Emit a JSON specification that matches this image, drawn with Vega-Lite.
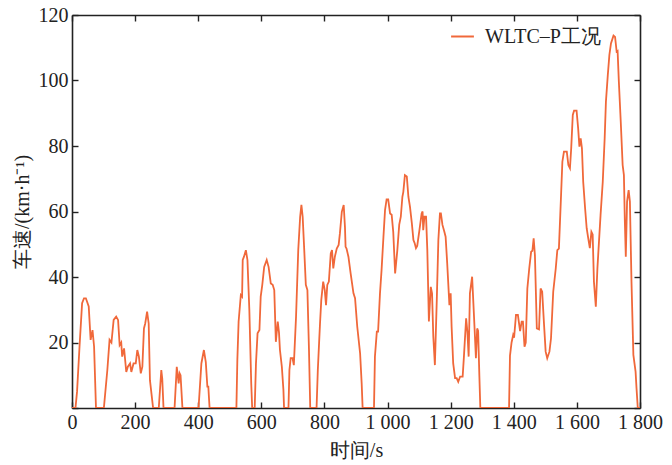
{
  "$schema": "https://vega.github.io/schema/vega-lite/v6.json",
  "width": 568,
  "height": 393,
  "autosize": {"type": "none"},
  "padding": {"left": 72, "top": 15, "right": 32, "bottom": 57},
  "config": {
    "font": "Liberation Serif",
    "view": {"stroke": null},
    "axis": {
      "grid": false,
      "domainColor": "#222",
      "domainWidth": 1.6,
      "tickColor": "#222",
      "tickWidth": 1.4,
      "tickSize": -6,
      "labelFont": "Liberation Serif",
      "labelFontSize": 20,
      "labelColor": "#222",
      "titleFont": "Liberation Serif",
      "titleFontSize": 20,
      "titleFontWeight": "normal",
      "titleColor": "#222"
    },
    "legend": {
      "labelFont": "Liberation Serif",
      "labelFontSize": 20,
      "labelColor": "#222"
    }
  },
  "data": {"values": [
    {"t":0,"v":0},{"t":11,"v":0},{"t":16,"v":5},{"t":24,"v":19},{"t":32,"v":32},{"t":38,"v":33.5},{"t":44,"v":33.5},{"t":53,"v":31},{"t":59,"v":20.8},{"t":65,"v":23.8},{"t":70,"v":18.7},{"t":76,"v":0},
    {"t":101,"v":0},{"t":112,"v":11.6},{"t":119,"v":20.8},{"t":125,"v":20},{"t":132,"v":26.9},{"t":140,"v":27.9},{"t":146,"v":26.9},{"t":151,"v":19.2},{"t":156,"v":20},{"t":159,"v":15.7},{"t":165,"v":18.2},{"t":172,"v":11},{"t":177,"v":12.6},{"t":184,"v":13.6},{"t":188,"v":11},{"t":195,"v":13.6},{"t":202,"v":13.6},{"t":207,"v":17.7},{"t":212,"v":15.7},{"t":218,"v":10.6},{"t":223,"v":12.6},{"t":228,"v":24.3},{"t":232,"v":25.8},{"t":238,"v":29.4},{"t":243,"v":25.8},{"t":247,"v":8.5},{"t":257,"v":0},
    {"t":275,"v":0},{"t":283,"v":11.6},{"t":286,"v":9},{"t":290,"v":0},{"t":325,"v":0},{"t":332,"v":12.6},{"t":338,"v":7.5},{"t":341,"v":10.6},{"t":344,"v":10},{"t":350,"v":0},
    {"t":401,"v":0},{"t":410,"v":13.6},{"t":418,"v":17.7},{"t":424,"v":14},{"t":429,"v":6.5},{"t":432,"v":6.5},{"t":436,"v":0},
    {"t":521,"v":0},{"t":524,"v":14.7},{"t":528,"v":26.4},{"t":535,"v":34.5},{"t":539,"v":34},{"t":541,"v":45.2},{"t":545,"v":46.2},{"t":551,"v":48.2},{"t":556,"v":45.2},{"t":562,"v":29.9},{"t":568,"v":7.5},{"t":571,"v":0},
    {"t":579,"v":0},{"t":583,"v":13.6},{"t":588,"v":22.8},{"t":594,"v":23.8},{"t":598,"v":34},{"t":603,"v":37.6},{"t":609,"v":43.1},{"t":617,"v":45.2},{"t":623,"v":43.1},{"t":630,"v":38},{"t":636,"v":37.6},{"t":641,"v":36},{"t":646,"v":20.2},{"t":652,"v":26.4},{"t":656,"v":23},{"t":659,"v":17.7},{"t":665,"v":12.6},{"t":670,"v":5.5},{"t":672,"v":0},
    {"t":686,"v":0},{"t":689,"v":11.6},{"t":693,"v":15.2},{"t":699,"v":15.2},{"t":703,"v":13.1},{"t":710,"v":27.9},{"t":717,"v":48.2},{"t":723,"v":58.4},{"t":727,"v":62},{"t":731,"v":58.4},{"t":736,"v":48.2},{"t":741,"v":37.6},{"t":746,"v":36},{"t":751,"v":17.7},{"t":755,"v":0},
    {"t":775,"v":0},{"t":779,"v":11.6},{"t":783,"v":19.8},{"t":786,"v":25.9},{"t":790,"v":33},{"t":796,"v":38.6},{"t":801,"v":36},{"t":805,"v":31.4},{"t":809,"v":37.6},{"t":814,"v":38.6},{"t":820,"v":47.2},{"t":824,"v":48.2},{"t":828,"v":42.6},{"t":833,"v":46.2},{"t":839,"v":48.7},{"t":845,"v":49.8},{"t":849,"v":53.3},{"t":855,"v":59.9},{"t":861,"v":62},{"t":865,"v":55.3},{"t":867,"v":49.2},{"t":870,"v":48.7},{"t":876,"v":46.2},{"t":883,"v":41.1},{"t":892,"v":35},{"t":897,"v":33.5},{"t":904,"v":24.8},{"t":913,"v":16.7},{"t":918,"v":7.5},{"t":921,"v":0},
    {"t":957,"v":0},{"t":960,"v":15.7},{"t":966,"v":23.3},{"t":970,"v":23.3},{"t":976,"v":35},{"t":981,"v":42.1},{"t":987,"v":52.3},{"t":992,"v":60.4},{"t":997,"v":63.7},{"t":1002,"v":63.7},{"t":1008,"v":59.4},{"t":1013,"v":59},{"t":1018,"v":53.8},{"t":1024,"v":41.1},{"t":1031,"v":48.2},{"t":1037,"v":56},{"t":1042,"v":58.4},{"t":1047,"v":64.5},{"t":1050,"v":66},{"t":1055,"v":71.1},{"t":1061,"v":70.7},{"t":1066,"v":64.5},{"t":1071,"v":61.5},{"t":1077,"v":56.4},{"t":1082,"v":51.3},{"t":1086,"v":50.3},{"t":1090,"v":48.8},{"t":1094,"v":49.5},{"t":1101,"v":54.3},{"t":1108,"v":59.4},{"t":1111,"v":60},{"t":1113,"v":54.3},{"t":1117,"v":58.4},{"t":1122,"v":58.4},{"t":1126,"v":48.2},{"t":1131,"v":26.4},{"t":1137,"v":37},{"t":1141,"v":35},{"t":1145,"v":21.8},{"t":1150,"v":13.1},{"t":1156,"v":33},{"t":1161,"v":51.3},{"t":1166,"v":59.4},{"t":1169,"v":59.4},{"t":1174,"v":55.9},{"t":1180,"v":53.8},{"t":1184,"v":52.3},{"t":1189,"v":44.2},{"t":1196,"v":31.4},{"t":1200,"v":35},{"t":1203,"v":24.8},{"t":1208,"v":13.6},{"t":1214,"v":9.1},{"t":1219,"v":9.1},{"t":1224,"v":8},{"t":1230,"v":9.6},{"t":1238,"v":9.6},{"t":1242,"v":15.7},{"t":1249,"v":27.4},{"t":1253,"v":23.3},{"t":1257,"v":15.7},{"t":1261,"v":35},{"t":1268,"v":40.1},{"t":1272,"v":32},{"t":1276,"v":23.8},{"t":1280,"v":15.2},{"t":1284,"v":24.3},{"t":1287,"v":23.5},{"t":1291,"v":9.6},{"t":1294,"v":0},
    {"t":1385,"v":0},{"t":1388,"v":16},{"t":1393,"v":20},{"t":1398,"v":22.3},{"t":1401,"v":21.5},{"t":1407,"v":28.4},{"t":1413,"v":28.4},{"t":1420,"v":23.5},{"t":1425,"v":26.4},{"t":1429,"v":26.4},{"t":1434,"v":18.7},{"t":1438,"v":20},{"t":1443,"v":36.5},{"t":1449,"v":42.6},{"t":1455,"v":47.7},{"t":1459,"v":48},{"t":1463,"v":51.8},{"t":1467,"v":46.7},{"t":1473,"v":24.3},{"t":1480,"v":24},{"t":1485,"v":36.5},{"t":1490,"v":35.5},{"t":1496,"v":25.3},{"t":1501,"v":17.2},{"t":1506,"v":15.2},{"t":1513,"v":17.2},{"t":1518,"v":21.3},{"t":1525,"v":35.5},{"t":1533,"v":42.6},{"t":1538,"v":48.2},{"t":1543,"v":48.7},{"t":1549,"v":63},{"t":1554,"v":75.2},{"t":1559,"v":78.3},{"t":1568,"v":78.3},{"t":1573,"v":74.2},{"t":1578,"v":73.2},{"t":1582,"v":79.3},{"t":1587,"v":89.5},{"t":1591,"v":90.8},{"t":1599,"v":90.8},{"t":1604,"v":85.4},{"t":1608,"v":79.8},{"t":1612,"v":82.3},{"t":1616,"v":79.3},{"t":1620,"v":69.1},{"t":1626,"v":61},{"t":1631,"v":54.9},{"t":1636,"v":51.8},{"t":1641,"v":48.8},{"t":1646,"v":53.8},{"t":1650,"v":53},{"t":1654,"v":38.6},{"t":1660,"v":30.9},{"t":1665,"v":42.6},{"t":1670,"v":50.8},{"t":1675,"v":58.9},{"t":1682,"v":69.1},{"t":1688,"v":82.3},{"t":1692,"v":93.5},{"t":1698,"v":101.7},{"t":1703,"v":107.8},{"t":1708,"v":111.3},{"t":1716,"v":113.7},{"t":1721,"v":113.3},{"t":1726,"v":108.8},{"t":1729,"v":109},{"t":1733,"v":99.6},{"t":1739,"v":87.4},{"t":1745,"v":74.2},{"t":1749,"v":71.1},{"t":1752,"v":56.9},{"t":1755,"v":46.2},{"t":1759,"v":63},{"t":1764,"v":66.5},{"t":1768,"v":63},{"t":1773,"v":38.6},{"t":1779,"v":16.2},{"t":1786,"v":11.1},{"t":1789,"v":6},{"t":1793,"v":0},{"t":1800,"v":0}
  ]},
  "layer": [
    {
      "mark": {"type": "line", "strokeWidth": 1.8, "clip": true},
      "encoding": {
        "x": {
          "field": "t", "type": "quantitative",
          "scale": {"domain": [0, 1800], "nice": false, "zero": false},
          "axis": {
            "values": [0, 200, 400, 600, 800, 1000, 1200, 1400, 1600, 1800],
            "labelExpr": "replace(format(datum.value, ','), ',', ' ')",
            "labelPadding": 10,
            "labelFlush": false,
            "labelOverlap": false,
            "title": "时间/s",
            "titlePadding": 8
          }
        },
        "y": {
          "field": "v", "type": "quantitative",
          "scale": {"domain": [0, 120], "nice": false},
          "axis": {
            "values": [0, 20, 40, 60, 80, 100, 120],
            "labelExpr": "datum.value == 0 ? '' : datum.label",
            "labelPadding": 10,
            "labelFlush": false,
            "title": "车速/(km·h⁻¹)",
            "titlePadding": 6
          }
        },
        "color": {
          "datum": "WLTC–P工况",
          "type": "nominal",
          "scale": {"range": ["#f0683a"]},
          "legend": {
            "title": null,
            "orient": "none",
            "legendX": 378,
            "legendY": 9,
            "symbolType": "stroke",
            "symbolSize": 520,
            "symbolStrokeWidth": 2,
            "labelOffset": 10
          }
        }
      }
    },
    {
      "mark": {"type": "line", "strokeOpacity": 0},
      "encoding": {
        "x": {
          "field": "t", "type": "quantitative",
          "scale": {"domain": [0, 1800], "nice": false, "zero": false},
          "axis": {"orient": "top", "values": [0, 200, 400, 600, 800, 1000, 1200, 1400, 1600, 1800], "labels": false, "title": null}
        },
        "y": {
          "field": "v", "type": "quantitative",
          "scale": {"domain": [0, 120], "nice": false},
          "axis": {"orient": "right", "values": [0, 20, 40, 60, 80, 100, 120], "labels": false, "title": null}
        }
      }
    }
  ],
  "resolve": {"axis": {"x": "independent", "y": "independent"}}
}
